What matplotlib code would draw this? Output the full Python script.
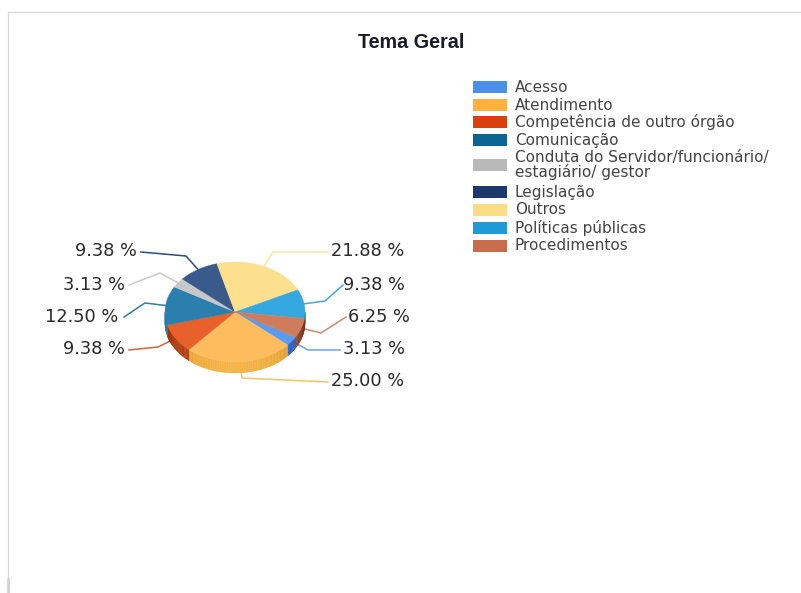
import numpy as np
import matplotlib
matplotlib.use("Agg")
import matplotlib.pyplot as plt
from matplotlib.patches import Polygon, Rectangle

plt.rcParams['font.family'] = ['Liberation Sans', 'DejaVu Sans']

title = "Tema Geral"
categories = ["Acesso", "Atendimento", "Competência de outro órgão", "Comunicação",
              "Conduta do Servidor/funcionário/\nestagiário/ gestor", "Legislação",
              "Outros", "Políticas públicas", "Procedimentos"]
percentages = [3.13, 25.00, 9.38, 12.50, 3.13, 9.38, 21.88, 9.38, 6.25]

legend_colors = ["#4a8fe8", "#ffb13e", "#dc3f0e", "#0c6593", "#b9b9b9",
                 "#1b3a6b", "#fbdc86", "#1f9ad8", "#c76d4e"]
top_colors = ["#5b9bef", "#fdbd5e", "#e8602c", "#2a7fae", "#c8c8c8",
              "#3a5a8c", "#fde08e", "#35a8e0", "#cf7c5c"]
side_colors = ["#2a62b8", "#dd9a2c", "#a83808", "#3a8fbc", "#9a9a9a",
               "#1b3a6b", "#d8b860", "#1878b0", "#8f4a30"]
line_colors = ["#6aa5ea", "#f6c26a", "#d9623c", "#2f7fa8", "#c9c9c9",
               "#2b4c7e", "#fbe3a0", "#45a9dc", "#d08a70"]

# Layout in pixels
CX, CY, RX, RY, DEPTH = 235, 312, 70, 50, 11
START_ANGLE = -30
elbows = [(308, 350), (242, 378), (158, 347), (145, 303), (160, 273),
          (186, 256), (273, 252), (325, 301), (321, 333)]
line_ends = [(340, 350), (328, 382), (129, 350), (124, 317), (129, 285),
             (141, 252), (328, 252), (343, 285), (346, 317)]
label_pos = [(343, 349.5, 'left'), (331, 381.5, 'left'), (125, 349.5, 'right'),
             (118, 317, 'right'), (125, 284.5, 'right'), (137, 251.5, 'right'),
             (331, 251.5, 'left'), (343, 284.5, 'left'), (348, 317, 'left')]
legend_rows = [87, 105, 122, 140, 165, 192, 210, 228, 246]

fig = plt.figure(figsize=(8.01, 5.93), dpi=100, facecolor="white")
ax = fig.add_axes([0, 0, 1, 1])
ax.set_xlim(0, 801)
ax.set_ylim(593, 0)
ax.axis("off")

# Outer frame
ax.plot([8, 8, 801], [593, 11.5, 11.5], color="#d8d8d8", lw=1, zorder=1)
ax.plot([8, 8], [579, 593], color="#cfcfcf", lw=1.8, zorder=1)


def rim(a0, a1, n=60):
    t = np.radians(np.linspace(a0, a1, n))
    return CX + RX * np.cos(t), CY - RY * np.sin(t)


def lighten(color, amount):
    rgb = np.array(matplotlib.colors.to_rgb(color))
    return tuple(np.clip(rgb + amount, 0, 1))


shares = np.array(percentages) / np.sum(percentages) * 360
bounds = START_ANGLE - np.concatenate([[0], np.cumsum(shares)])

# Side wall: only the part of each slice facing the viewer
for i, col in enumerate(side_colors):
    a1, a0 = bounds[i], bounds[i + 1]
    for lo in (-360, 0):
        s, e = max(a0, lo - 180), min(a1, lo)
        if e <= s:
            continue
        edges = np.arange(s, e + 1.5, 1.5)
        edges[-1] = e
        for p, q in zip(edges[:-1], edges[1:]):
            if p >= q:
                continue
            x, y = rim(p, q, 3)
            shade = 0.22 * np.cos(np.radians((p + q) / 2 + 90)) - 0.12
            ax.add_patch(Polygon(np.r_[np.c_[x, y], np.c_[x[::-1], y[::-1] + DEPTH]],
                                 fc=lighten(col, shade), ec=lighten(col, shade),
                                 lw=0.3, zorder=2))

# Top face
for i, col in enumerate(top_colors):
    x, y = rim(bounds[i + 1], bounds[i])
    ax.add_patch(Polygon(np.c_[np.r_[CX, x], np.r_[CY, y]], fc=col, ec=col,
                         lw=0.3, zorder=3))

# Leader lines and percentage labels
for i, pct in enumerate(percentages):
    mid = np.radians((bounds[i] + bounds[i + 1]) / 2)
    sx, sy = CX + RX * np.cos(mid), CY - RY * np.sin(mid)
    ex, ey = elbows[i]
    lx, ly = line_ends[i]
    ax.plot([sx, ex, lx], [sy, ey, ly], color=line_colors[i], lw=1.1, zorder=1.5)
    tx, ty, ha = label_pos[i]
    ax.text(tx, ty, f"{pct:.2f} %", ha=ha, va="center", fontsize=12.8,
            family=["DejaVu Sans"], color="#2a2a2a", zorder=5)

ax.text(411, 42, title, ha="center", va="center", fontsize=14.2,
        fontweight="bold", color="#1a1a2a")

# Legend
for name, col, row in zip(categories, legend_colors, legend_rows):
    ax.add_patch(Rectangle((473, row - 6), 34, 12, fc=col, ec="none", zorder=3))
    ax.text(515, row, name, ha="left", va="center", fontsize=11, color="#444444",
            family=["DejaVu Sans"], linespacing=0.88)

fig.savefig("out.png", dpi=100)
